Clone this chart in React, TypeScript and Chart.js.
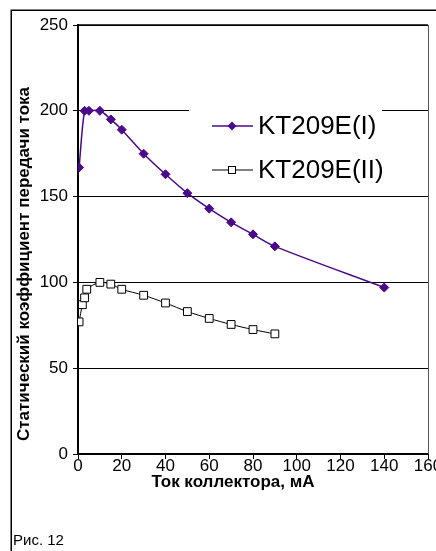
import React, { useEffect, useRef } from 'react';
import { Chart, registerables } from 'chart.js';

Chart.register(...registerables);

// ---- data ----
const seriesNames = ['KT209E(I)', 'KT209E(II)'];
const xI = [0.5, 3, 5, 10, 15, 20, 30, 40, 50, 60, 70, 80, 90, 140];
const yI = [167, 200, 200, 200, 195, 189, 175, 163, 152, 143, 135, 128, 121, 97];
const xII = [0.5, 2, 3, 4, 10, 15, 20, 30, 40, 50, 60, 70, 80, 90];
const yII = [77, 87, 91, 96, 100, 99, 96, 92.5, 88, 83, 79, 75.5, 72.5, 70];
const xTicks = [0, 20, 40, 60, 80, 100, 120, 140, 160];
const yTicks = [0, 50, 100, 150, 200, 250];
const xTitle = 'Ток коллектора, мА';
const yTitle = 'Статический коэффициент передачи тока';
const caption = 'Рис. 12';

const FONT = "'Liberation Sans', Arial, Helvetica, sans-serif";
const PURPLE = '#4b0a8a';

const overlay = {
  id: 'overlay',
  afterDraw(chart: any) {
    const { ctx, chartArea } = chart;
    const { left, right, top, bottom } = chartArea;
    ctx.save();
    // outer frame
    ctx.strokeStyle = '#000';
    ctx.lineWidth = 1.5;
    ctx.strokeRect(11.25, 10.25, 440, 560);
    // plot border top & right
    ctx.lineWidth = 1.5;
    ctx.beginPath();
    ctx.moveTo(left, top);
    ctx.lineTo(right, top);
    ctx.stroke();
    ctx.strokeStyle = '#555';
    ctx.lineWidth = 1;
    ctx.beginPath();
    ctx.moveTo(right + 0.5, top);
    ctx.lineTo(right + 0.5, bottom);
    ctx.stroke();

    // legend
    ctx.fillStyle = '#fff';
    ctx.fillRect(189, 102, 193, 88);
    const items = [
      { y: 126, color: PURPLE, lw: 1.5, marker: 'diamond' },
      { y: 170, color: '#000', lw: 1, marker: 'square' },
    ];
    items.forEach((it, i) => {
      ctx.strokeStyle = it.color;
      ctx.lineWidth = it.lw;
      ctx.beginPath();
      ctx.moveTo(212, it.y);
      ctx.lineTo(253, it.y);
      ctx.stroke();
      const cx = 232;
      if (it.marker === 'diamond') {
        ctx.fillStyle = PURPLE;
        ctx.beginPath();
        ctx.moveTo(cx, it.y - 4.5);
        ctx.lineTo(cx + 4.5, it.y);
        ctx.lineTo(cx, it.y + 4.5);
        ctx.lineTo(cx - 4.5, it.y);
        ctx.closePath();
        ctx.fill();
      } else {
        ctx.fillStyle = '#fff';
        ctx.fillRect(cx - 4, it.y - 4, 8, 8);
        ctx.strokeStyle = '#000';
        ctx.lineWidth = 1;
        ctx.strokeRect(cx - 3.5, it.y - 3.5, 7, 7);
      }
      ctx.fillStyle = '#000';
      ctx.font = `26px ${FONT}`;
      ctx.textAlign = 'left';
      ctx.textBaseline = 'middle';
      ctx.fillText(seriesNames[i], 258, it.y + 1);
    });

    // axis titles
    ctx.fillStyle = '#000';
    ctx.font = `bold 17px ${FONT}`;
    ctx.textAlign = 'center';
    ctx.textBaseline = 'middle';
    ctx.fillText(xTitle, 233, 482);
    ctx.save();
    ctx.translate(24, 264);
    ctx.rotate(-Math.PI / 2);
    ctx.fillText(yTitle, 0, 0);
    ctx.restore();

    // caption
    ctx.font = `15px ${FONT}`;
    ctx.textAlign = 'left';
    ctx.fillText(caption, 13, 541);
    ctx.restore();
  },
};

export default function App() {
  const ref = useRef<HTMLCanvasElement>(null);
  useEffect(() => {
    document.body.style.margin = '0';
    const chart = new Chart(ref.current!, {
      type: 'line',
      data: {
        datasets: [
          {
            label: seriesNames[0],
            data: xI.map((x, i) => ({ x, y: yI[i] })),
            borderColor: PURPLE,
            backgroundColor: PURPLE,
            borderWidth: 1.5,
            pointStyle: 'rectRot',
            pointRadius: 4.5,
            pointBorderWidth: 1,
            pointBorderColor: PURPLE,
            tension: 0.3,
          },
          {
            label: seriesNames[1],
            data: xII.map((x, i) => ({ x, y: yII[i] })),
            borderColor: '#000',
            backgroundColor: '#fff',
            borderWidth: 1,
            pointStyle: 'rect',
            pointRadius: 5.5,
            pointBorderWidth: 1,
            pointBorderColor: '#000',
            pointBackgroundColor: '#fff',
            tension: 0.3,
          },
        ],
      },
      options: {
        animation: false,
        responsive: false,
        devicePixelRatio: 1,
        layout: { padding: { left: 0, top: 25, right: 8, bottom: 0 } },
        plugins: { legend: { display: false }, tooltip: { enabled: false } },
        scales: {
          x: {
            type: 'linear',
            min: 0,
            max: 160,
            afterBuildTicks: (s: any) => {
              s.ticks = xTicks.map((v) => ({ value: v }));
            },
            afterFit: (s: any) => {
              s.height = 97;
              s.paddingLeft = 0;
              s.paddingRight = 0;
            },
            ticks: { color: '#000', font: { family: FONT, size: 17 }, padding: -3, maxRotation: 0, autoSkip: false },
            grid: { drawOnChartArea: false, drawTicks: true, tickLength: 5, color: '#000', lineWidth: 1 },
            border: { display: true, color: '#000', width: 2 },
          },
          y: {
            type: 'linear',
            min: 0,
            max: 250,
            afterBuildTicks: (s: any) => {
              s.ticks = yTicks.map((v) => ({ value: v }));
            },
            afterFit: (s: any) => {
              s.width = 78;
            },
            ticks: { color: '#000', font: { family: FONT, size: 17 }, padding: 5 },
            grid: { color: '#000', lineWidth: 1, tickLength: 5, drawTicks: true },
            border: { display: true, color: '#000', width: 2 },
          },
        },
      },
      plugins: [overlay],
    });
    return () => chart.destroy();
  }, []);
  return (
    <div style={{ position: 'absolute', left: 0, top: 0, width: 436, height: 551, background: '#fff' }}>
      <canvas ref={ref} width={436} height={551} style={{ display: 'block', width: 436, height: 551 }} />
    </div>
  );
}
